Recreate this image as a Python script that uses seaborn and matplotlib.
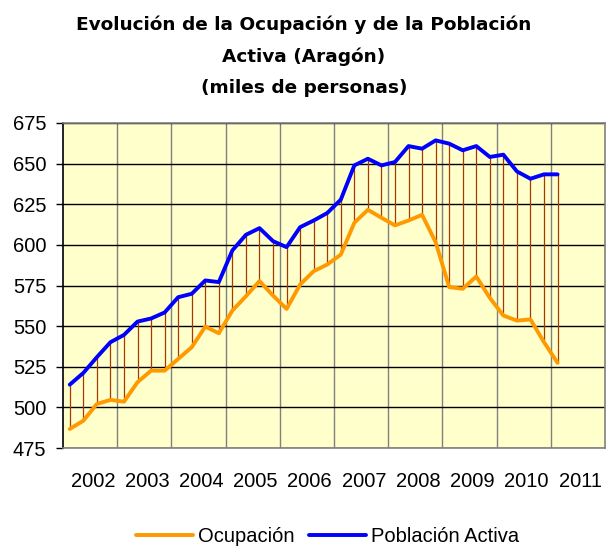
import matplotlib
matplotlib.use("Agg")
import matplotlib.pyplot as plt
import seaborn as sns
import pandas as pd
import numpy as np

# ---- data (miles de personas), quarterly 2002T1 .. 2011T1 ----
anios = ["2002", "2003", "2004", "2005", "2006", "2007", "2008", "2009", "2010", "2011"]
ocupacion = [486.7, 491.8, 502.1, 504.6, 503.5, 515.5, 522.6, 522.6, 529.8, 537.0,
             549.7, 545.6, 559.6, 568.4, 577.7, 568.8, 560.6, 575.6, 583.8, 587.9,
             594.0, 613.6, 621.6, 616.7, 612.0, 615.0, 618.5, 601.7, 574.0, 573.0,
             580.5, 567.4, 556.5, 553.4, 554.1, 540.1, 527.4]
poblacion_activa = [514.0, 521.2, 530.9, 540.1, 544.6, 552.8, 554.7, 558.4, 567.8, 569.9,
                    578.1, 577.1, 596.6, 606.2, 610.3, 602.3, 598.6, 610.9, 615.0, 619.6,
                    627.8, 648.9, 653.0, 648.9, 651.0, 660.8, 659.2, 664.3, 662.3, 658.2,
                    660.8, 654.1, 655.5, 645.2, 640.7, 643.4, 643.4]
series = ["Ocupación", "Población Activa"]
colores = ["#FF9900", "#0000FF"]
titulo = ["Evolución de la Ocupación y de la Población", "Activa (Aragón)", "(miles de personas)"]

n = len(ocupacion)
idx = np.arange(n)
df = pd.DataFrame({
    "t": np.concatenate([idx, idx]),
    "valor": ocupacion + poblacion_activa,
    "serie": [series[0]] * n + [series[1]] * n,
})

sns.set_style("white")
plt.rcParams["font.family"] = ["Liberation Sans", "DejaVu Sans"]
plt.rcParams["text.color"] = "black"
plt.rcParams["xtick.labelcolor"] = "black"
plt.rcParams["ytick.labelcolor"] = "black"

fig = plt.figure(figsize=(6.08, 5.53), dpi=100)
ax = fig.add_axes([63 / 608, 1 - 448 / 553, (605 - 63) / 608, (448 - 123) / 553])
ax.set_facecolor("#FFFFCC")

# drop lines
ax.vlines(idx, ocupacion, poblacion_activa, color="#A33A00", linewidth=0.9, zorder=2)

sns.lineplot(data=df, x="t", y="valor", hue="serie", palette=dict(zip(series, colores)),
             linewidth=2.8, ax=ax, legend=False, zorder=3)

ax.set_xlim(-0.5, 39.5)
ax.set_ylim(475, 675)
ax.set_yticks(np.arange(475, 676, 25))
ax.set_xticks([1.7 + 4 * k for k in range(len(anios))])
ax.set_xticklabels(anios)
ax.set_xticks([-0.5 + 4 * k for k in range(1, 10)], minor=True)
ax.grid(axis="y", which="major", color="black", linewidth=1.0)
ax.grid(axis="x", which="minor", color="#808080", linewidth=1.0)
ax.grid(axis="x", which="major", visible=False)
ax.set_axisbelow(True)
ax.set_xlabel("")
ax.set_ylabel("")

ax.tick_params(axis="y", which="major", direction="out", length=5, width=1,
               color="black", labelsize=14.5, pad=7, left=True)
ax.tick_params(axis="x", which="both", length=0, labelsize=14.5, pad=17)

for s in ["top", "right", "bottom"]:
    ax.spines[s].set_color("#808080")
    ax.spines[s].set_linewidth(1.2)
ax.spines["left"].set_color("black")
ax.spines["left"].set_linewidth(1.2)

for linea, ypx in zip(titulo, [30, 62, 93]):
    fig.text(0.5, 1 - ypx / 553, linea, ha="center", va="baseline", fontsize=13.3,
             fontweight="bold", family=["DejaVu Sans"], color="black")

handles = [plt.Line2D([], [], color=c, linewidth=2.8) for c in colores]
fig.legend(handles, series, loc="center", bbox_to_anchor=(0.539, 0.029), ncol=2,
           frameon=False, fontsize=14.5, handlelength=2.83, handletextpad=0.25,
           columnspacing=0.75, borderpad=0, borderaxespad=0)

fig.savefig("out.png", dpi=100)
